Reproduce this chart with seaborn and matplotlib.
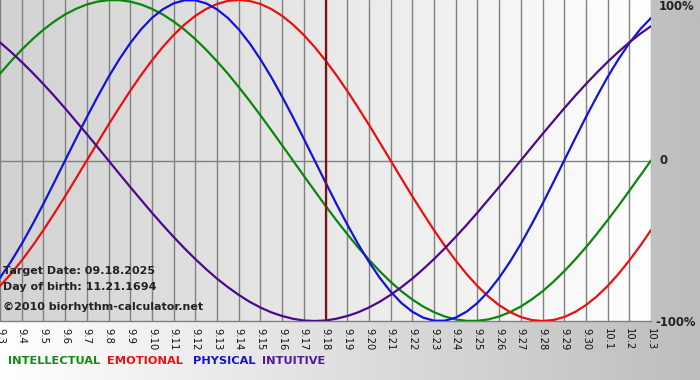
import numpy as np
import pandas as pd
import matplotlib
matplotlib.use("Agg")
import matplotlib.pyplot as plt
from matplotlib.colors import LinearSegmentedColormap
import seaborn as sns

# days from 9.3 to 10.3
day_labels = ["9.%d" % d for d in range(3, 31)] + ["10.1", "10.2", "10.3"]
days = list(range(len(day_labels)))
# curves are read every half day (0 = 9.3)
sample_days = list(np.arange(0, 30.5, 0.5))

# biorhythm values in percent
intellectual = [54.1, 61.8, 69.0, 75.6, 81.5, 86.6, 91.0, 94.5, 97.2, 99.0, 99.9, 99.9, 99.0, 97.2,
                94.5, 91.0, 86.6, 81.5, 75.6, 69.0, 61.8, 54.1, 45.8, 37.2, 28.2, 18.9, 9.5, 0,
                -9.5, -18.9, -28.2, -37.2, -45.8, -54.1, -61.8, -69.0, -75.6, -81.5, -86.6, -91.0,
                -94.5, -97.2, -99.0, -99.9, -99.9, -99.0, -97.2, -94.5, -91.0, -86.6, -81.5, -75.6,
                -69.0, -61.8, -54.1, -45.8, -37.2, -28.2, -18.9, -9.5, 0]
emotional = [-78.2, -70.7, -62.3, -53.2, -43.4, -33.0, -22.3, -11.2, 0, 11.2, 22.3, 33.0, 43.4,
             53.2, 62.3, 70.7, 78.2, 84.7, 90.1, 94.4, 97.5, 99.4, 100, 99.4, 97.5, 94.4, 90.1,
             84.7, 78.2, 70.7, 62.3, 53.2, 43.4, 33.0, 22.3, 11.2, 0, -11.2, -22.3, -33.0, -43.4,
             -53.2, -62.3, -70.7, -78.2, -84.7, -90.1, -94.4, -97.5, -99.4, -100, -99.4, -97.5,
             -94.4, -90.1, -84.7, -78.2, -70.7, -62.3, -53.2, -43.4]
physical = [-73.1, -63.1, -52.0, -39.8, -27.0, -13.6, 0, 13.6, 27.0, 39.8, 52.0, 63.1, 73.1, 81.7,
            88.8, 94.2, 97.9, 99.8, 99.8, 97.9, 94.2, 88.8, 81.7, 73.1, 63.1, 52.0, 39.8, 27.0,
            13.6, 0, -13.6, -27.0, -39.8, -52.0, -63.1, -73.1, -81.7, -88.8, -94.2, -97.9, -99.8,
            -99.8, -97.9, -94.2, -88.8, -81.7, -73.1, -63.1, -52.0, -39.8, -27.0, -13.6, 0, 13.6,
            27.0, 39.8, 52.0, 63.1, 73.1, 81.7, 88.8]
intuitive = [73.6, 67.7, 61.4, 54.7, 47.6, 40.2, 32.5, 24.5, 16.5, 8.3, 0, -8.3, -16.5, -24.5,
             -32.5, -40.2, -47.6, -54.7, -61.4, -67.7, -73.6, -78.9, -83.7, -88.0, -91.6, -94.6,
             -96.9, -98.6, -99.7, -100, -99.7, -98.6, -96.9, -94.6, -91.6, -88.0, -83.7, -78.9,
             -73.6, -67.7, -61.4, -54.7, -47.6, -40.2, -32.5, -24.5, -16.5, -8.3, 0, 8.3, 16.5,
             24.5, 32.5, 40.2, 47.6, 54.7, 61.4, 67.7, 73.6, 78.9, 83.7]

series_names = ["INTELLECTUAL", "EMOTIONAL", "PHYSICAL", "INTUITIVE"]
line_colors = ["#0a860a", "#e81010", "#1414d8", "#4a0a8a"]
text_colors = ["#138a13", "#ee1111", "#1515cc", "#551899"]
target_idx = 15  # 9.18

df = pd.DataFrame({
    "day": sample_days * 4,
    "value": intellectual + emotional + physical + intuitive,
    "series": sum([[n] * len(sample_days) for n in series_names], []),
})

sns.set_style("white")
plt.rcParams["font.family"] = ["DejaVu Sans"]

W, H = 700, 380
fig = plt.figure(figsize=(7, 3.8), dpi=100)

# figure background: horizontal gradient white -> gray
bg = fig.add_axes([0, 0, 1, 1], zorder=-10)
bg.axis("off")
grad = np.linspace(0, 1, 256).reshape(1, -1)
bg.imshow(grad, aspect="auto", extent=[0, 1, 0, 1],
          cmap=LinearSegmentedColormap.from_list("bgfig", ["#ffffff", "#bdbdbd"]))

left, right, top, bottom = 0, 651, 0, 321
ax = fig.add_axes([left / W, 1 - bottom / H, (right - left) / W, (bottom - top) / H])
ax.set_facecolor("none")
ax.imshow(grad, aspect="auto", extent=[0, 1, 0, 1], transform=ax.transAxes, zorder=0,
          cmap=LinearSegmentedColormap.from_list("bgax", ["#d2d2d2", "#ffffff"]))

for d in days:
    ax.axvline(d, color="#808080", lw=1.0, zorder=1)
ax.axhline(0, color="#808080", lw=1.0, zorder=1)

sns.lineplot(data=df, x="day", y="value", hue="series", hue_order=series_names,
             palette=line_colors, linewidth=1.6, legend=False, ax=ax, zorder=3)
ax.axvline(target_idx, color="#7a1414", lw=1.6, zorder=4)

ax.set_xlim(0, len(days) - 1)
ax.set_ylim(-100, 100)
ax.set_xticks(days)
ax.set_xticklabels(day_labels, rotation=-90, fontsize=7.2, color="#111111")
ax.set_yticks([])
ax.set_xlabel("")
ax.set_ylabel("")
ax.tick_params(axis="x", direction="out", length=4, width=1, color="#808080", pad=1)
for s in ["left", "right", "top"]:
    ax.spines[s].set_visible(False)
ax.spines["bottom"].set_color("#808080")
ax.spines["bottom"].set_linewidth(1)

# right-hand scale labels
for txt, x, y in [("100%", 659, 7), ("0", 660, 161), ("-100%", 655, 322)]:
    fig.text(x / W, 1 - y / H, txt, fontsize=8.4, fontweight="bold",
             color="#222222", va="center", ha="left")

# info text
info = [("Target Date: 09.18.2025", 271), ("Day of birth: 11.21.1694", 287),
        ("\u00a92010 biorhythm-calculator.net", 307)]
for txt, y in info:
    fig.text(3 / W, 1 - y / H, txt, fontsize=8, fontweight="bold",
             color="#222222", va="center", ha="left", zorder=5)

# legend words
legend_x = [8, 107, 193, 262]
for name, col, x in zip(series_names, text_colors, legend_x):
    fig.text(x / W, 1 - 361 / H, name, fontsize=8.2, fontweight="bold",
             color=col, va="center", ha="left")

fig.savefig("out.png", dpi=100)
